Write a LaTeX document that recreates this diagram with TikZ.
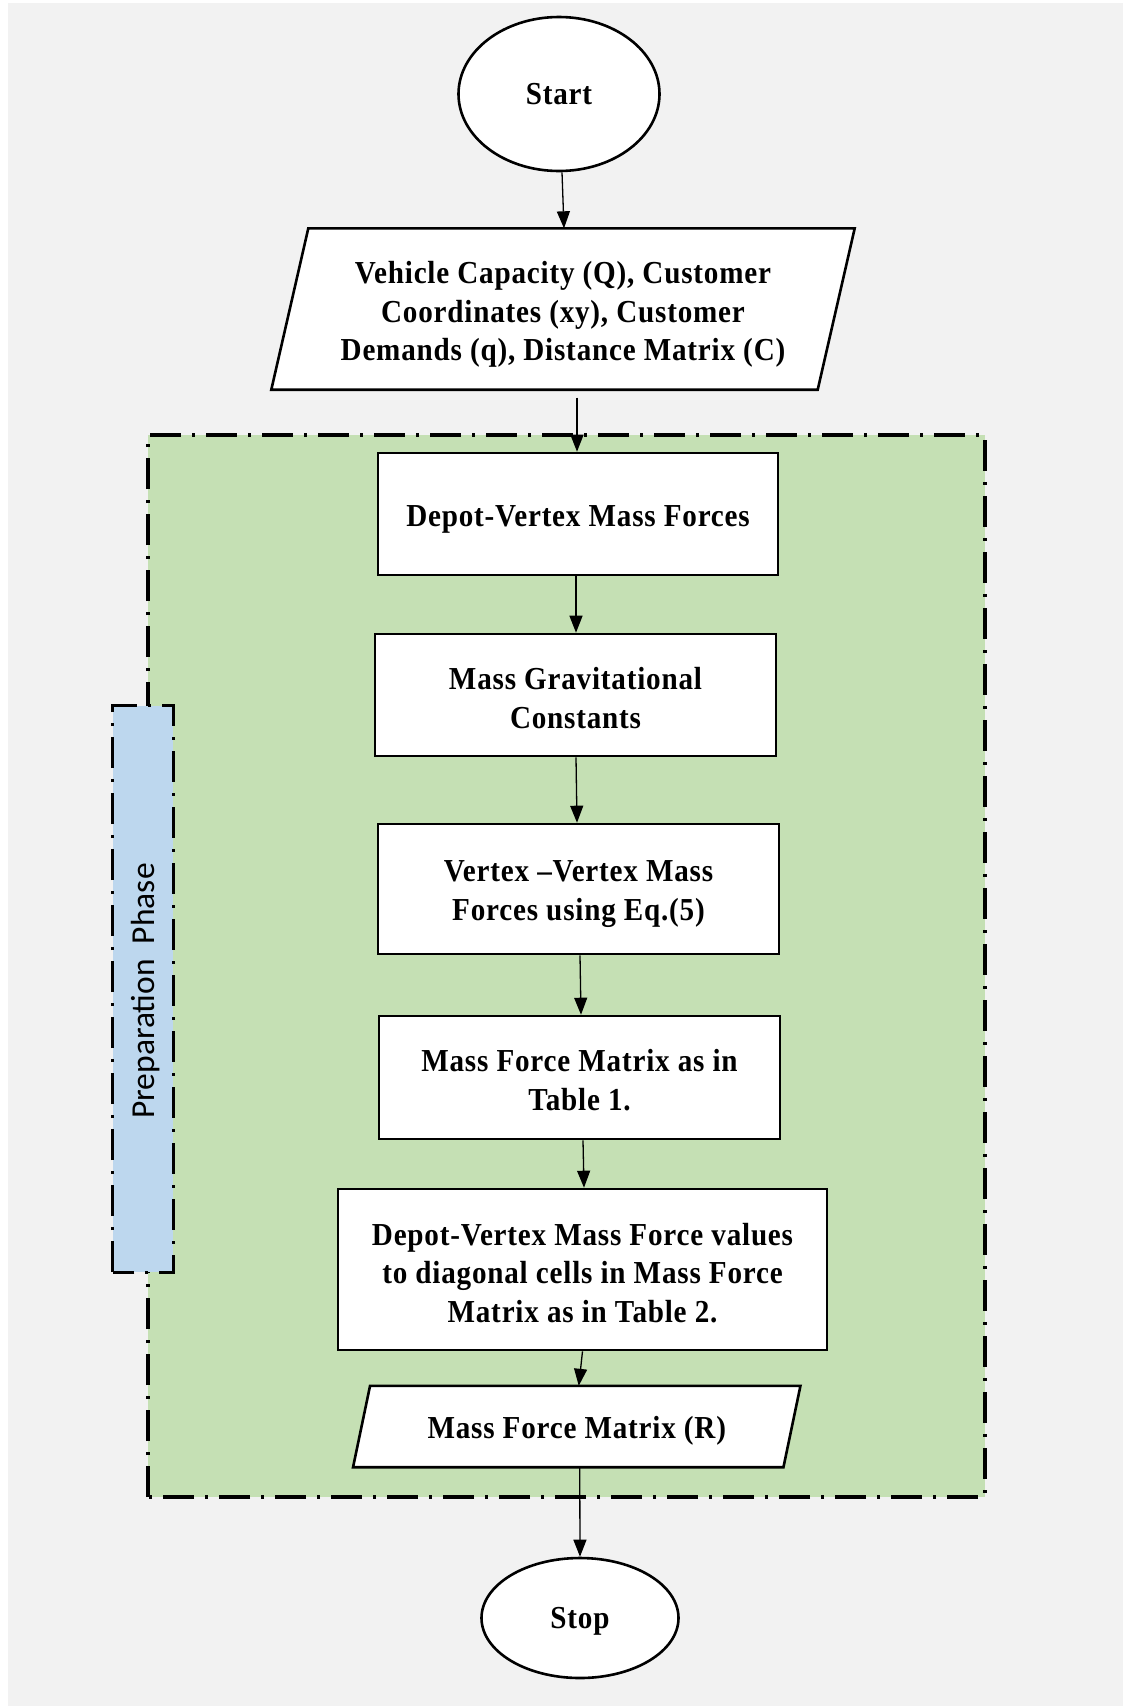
\documentclass[tikz,border=0pt]{standalone}
\usepackage{fontspec}
\setmainfont{Liberation Serif}[FakeStretch=0.91,LetterSpace=2.5]
\newfontfamily\phasefont{Carlito}
\usetikzlibrary{shapes.geometric,arrows.meta}
\definecolor{bggray}{HTML}{F2F2F2}
\definecolor{phasegreen}{HTML}{C5E0B4}
\definecolor{phaseblue}{HTML}{BDD7EE}
\newcommand{\boxlines}[2][4.5pt]{\raisebox{-#1}[\height][\depth]{\begin{tabular}{@{}c@{}}#2\end{tabular}}}
\tikzset{
  procbox/.style={draw=black, line width=2.6pt, fill=white, rectangle, align=center,
    font=\fontsize{32}{38.6}\selectfont\bfseries, inner sep=0pt},
  iotext/.style={rectangle, align=center, inner sep=0pt,
    font=\fontsize{32}{38.6}\selectfont\bfseries},
  iobox/.style={draw=black, line width=2.6pt, fill=white},
  termbox/.style={draw=black, line width=2.6pt, fill=white, ellipse, inner sep=0pt,
    font=\fontsize{32}{38}\selectfont\bfseries},
  flow/.style={draw=black, line width=1.3pt, -{Triangle[length=17pt,width=13pt]}},
  dashdot/.style={draw=black, line width=3.2pt, dash pattern=on 31pt off 11pt on 3pt off 11pt}
}
\begin{document}
\begin{tikzpicture}[x=1pt,y=-1pt]
\useasboundingbox (0,0) rectangle (1123,1706);
\fill[white] (0,0) rectangle (1123,1706);
\fill[bggray] (8,3) rectangle (1123,1706);

% phase regions
\path[fill=phasegreen] (148,435) rectangle (985,1497);
\draw[dashdot] (148,1497) -- (148,435) -- (985,435) -- (985,1497) -- cycle;
\node[fill=phaseblue, minimum width=60pt, minimum height=566pt, inner sep=0pt] (prep) at (143,989) {};
\draw[dashdot] (prep.south west) rectangle (prep.north east);
\node[rotate=90, font=\phasefont\fontsize{33.5}{38}\selectfont] (preplabel) at (146,991) {Preparation\ \ Phase};

% terminals
\node[termbox, minimum width=201pt, minimum height=154pt] (start) at (559,94) {Start};
\node[termbox, minimum width=197pt, minimum height=120pt] (stop) at (580,1618) {\boxlines[3.3pt]{Stop}};

% input parallelogram
\node[iotext, minimum width=546pt, minimum height=161pt] (input) at (563,309) {};
\path[iobox] ([xshift=18.5pt]input.north west) -- ([xshift=18.5pt]input.north east)
  -- ([xshift=-18.5pt]input.south east) -- ([xshift=-18.5pt]input.south west) -- cycle;
\node[iotext] (inputlabel) at (input.center)
  {\boxlines[5.5pt]{Vehicle Capacity (Q), Customer\\Coordinates (xy), Customer\\Demands (q), Distance Matrix (C)}};

% process boxes
\node[procbox, minimum width=400pt, minimum height=122pt] (b1) at (578,514) {\boxlines[4.5pt]{Depot-Vertex Mass Forces}};
\node[procbox, minimum width=401pt, minimum height=122pt] (b2) at (575.5,695) {\boxlines[6pt]{Mass Gravitational\\Constants}};
\node[procbox, minimum width=401pt, minimum height=130pt] (b3) at (578.5,889) {\boxlines[4.5pt]{Vertex --Vertex Mass\\Forces using Eq.(5)}};
\node[procbox, minimum width=401pt, minimum height=123pt] (b4) at (579.5,1077.5) {\boxlines[5.5pt]{Mass Force Matrix as in\\Table 1.}};
\node[procbox, minimum width=489pt, minimum height=161pt] (b5) at (582.5,1269.5) {\boxlines[6.5pt]{Depot-Vertex Mass Force values\\to diagonal cells in Mass Force\\Matrix as in Table 2.}};

% output parallelogram
\node[iotext, minimum width=430pt, minimum height=81pt] (out) at (576.75,1426.5) {};
\path[iobox] ([xshift=8.5pt]out.north west) -- ([xshift=8.5pt]out.north east)
  -- ([xshift=-8.5pt]out.south east) -- ([xshift=-8.5pt]out.south west) -- cycle;
\node[iotext] (outlabel) at (out.center) {\boxlines[4.5pt]{Mass Force Matrix (R)}};

% connectors
\draw[flow] ([xshift=3pt]start.south) -- ([xshift=1pt]input.north);
\draw[flow] ([xshift=14pt,yshift=-8pt]input.south) -- ([xshift=-1pt]b1.north);
\draw[flow] ([xshift=-2pt]b1.south) -- ([xshift=0.5pt]b2.north);
\draw[flow] ([xshift=0.5pt]b2.south) -- ([xshift=-1.5pt]b3.north);
\draw[flow] ([xshift=1.5pt]b3.south) -- ([xshift=1.5pt]b4.north);
\draw[flow] ([xshift=3.5pt]b4.south) -- ([xshift=1.5pt]b5.north);
\draw[flow] (b5.south) -- ([xshift=2pt]out.north);
\draw[flow] ([xshift=3pt]out.south) -- (stop.north);
\end{tikzpicture}
\end{document}
